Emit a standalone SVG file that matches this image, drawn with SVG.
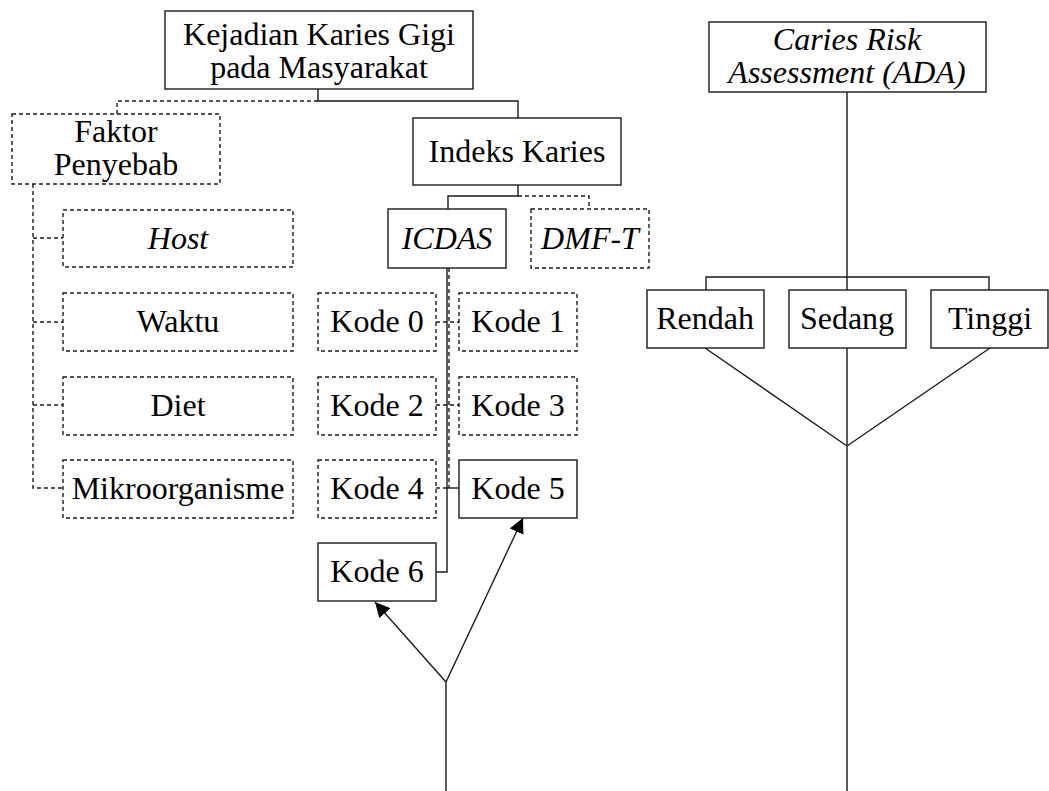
<svg xmlns="http://www.w3.org/2000/svg" width="1049" height="791" viewBox="0 0 1049 791">
<style>
.box{fill:#fff;stroke:#1a1a1a;stroke-width:1.4}
.dash{stroke-dasharray:4,3}
.ln{fill:none;stroke:#1a1a1a;stroke-width:1.4}
text{font-family:'Liberation Serif','DejaVu Serif',serif;font-size:32px;fill:#000;text-anchor:middle}
.it{font-style:italic}
</style>
<defs>
<marker id="ah" viewBox="0 0 10 10" refX="10" refY="5" markerWidth="15" markerHeight="15" markerUnits="userSpaceOnUse" orient="auto">
<path d="M0,0 L10,5 L0,10 z" fill="#000"/>
</marker>
</defs>
<g id="connectors">
<path class="ln" d="M318,89 V101 H518 V118"/>
<path class="ln dash" d="M318,101 H117 V114"/>
<path class="ln" d="M518,185 V196 H448 V209"/>
<path class="ln dash" d="M518,196 H589 V209"/>
<path class="ln dash" d="M33,184 V488 H63 M33,238 H63 M33,322 H63 M33,405 H63"/>
<path class="ln dash" d="M449,268 V488"/>
<path class="ln" d="M447,268 V572 H436"/>
<path class="ln dash" d="M436,322 H459 M436,405 H459 M436,488 H447"/>
<path class="ln" d="M447,488 H459"/>
<path class="ln" d="M446,791 V682"/>
<path class="ln" d="M446,682 L375,602" marker-end="url(#ah)"/>
<path class="ln" d="M446,682 L523,518" marker-end="url(#ah)"/>
<path class="ln" d="M847,92 V277 M706,290 V277 H989 V290 M847,277 V290"/>
<path class="ln" d="M705,348 L847,446 L990,348 M847,348 V791"/>
</g>
<g id="n-kejadian"><rect class="box" x="165" y="11" width="308" height="78"/><text x="319" y="45">Kejadian Karies Gigi</text><text x="319" y="78">pada Masyarakat</text></g>
<g id="n-faktor"><rect class="box dash" x="12" y="114" width="208" height="70"/><text x="116" y="142">Faktor</text><text x="116" y="175">Penyebab</text></g>
<g id="n-indeks"><rect class="box" x="413" y="118" width="208" height="67"/><text x="517" y="162">Indeks Karies</text></g>
<g id="n-icdas"><rect class="box" x="388" y="209" width="118" height="59"/><text class="it" x="447" y="249">ICDAS</text></g>
<g id="n-dmft"><rect class="box dash" x="531" y="209" width="118" height="59"/><text class="it" x="590" y="249">DMF-T</text></g>
<g id="n-host"><rect class="box dash" x="63" y="210" width="230" height="57"/><text class="it" x="178" y="249">Host</text></g>
<g id="n-waktu"><rect class="box dash" x="63" y="293" width="230" height="58"/><text x="178" y="332">Waktu</text></g>
<g id="n-diet"><rect class="box dash" x="63" y="377" width="230" height="58"/><text x="178" y="416">Diet</text></g>
<g id="n-mikro"><rect class="box dash" x="63" y="460" width="230" height="58"/><text x="178" y="499">Mikroorganisme</text></g>
<g id="n-kode0"><rect class="box dash" x="318" y="293" width="118" height="58"/><text x="377" y="332">Kode 0</text></g>
<g id="n-kode1"><rect class="box dash" x="459" y="293" width="118" height="58"/><text x="518" y="332">Kode 1</text></g>
<g id="n-kode2"><rect class="box dash" x="318" y="377" width="118" height="58"/><text x="377" y="416">Kode 2</text></g>
<g id="n-kode3"><rect class="box dash" x="459" y="377" width="118" height="58"/><text x="518" y="416">Kode 3</text></g>
<g id="n-kode4"><rect class="box dash" x="318" y="460" width="118" height="58"/><text x="377" y="499">Kode 4</text></g>
<g id="n-kode5"><rect class="box" x="459" y="460" width="118" height="58"/><text x="518" y="499">Kode 5</text></g>
<g id="n-kode6"><rect class="box" x="318" y="543" width="118" height="58"/><text x="377" y="582">Kode 6</text></g>
<g id="n-cra"><rect class="box" x="709" y="22" width="277" height="70"/><text class="it" x="847" y="50">Caries Risk</text><text class="it" x="847" y="83">Assessment (ADA)</text></g>
<g id="n-rendah"><rect class="box" x="647" y="290" width="117" height="58"/><text x="705" y="329">Rendah</text></g>
<g id="n-sedang"><rect class="box" x="789" y="290" width="117" height="58"/><text x="847" y="329">Sedang</text></g>
<g id="n-tinggi"><rect class="box" x="931" y="290" width="117" height="58"/><text x="990" y="329">Tinggi</text></g>
</svg>
